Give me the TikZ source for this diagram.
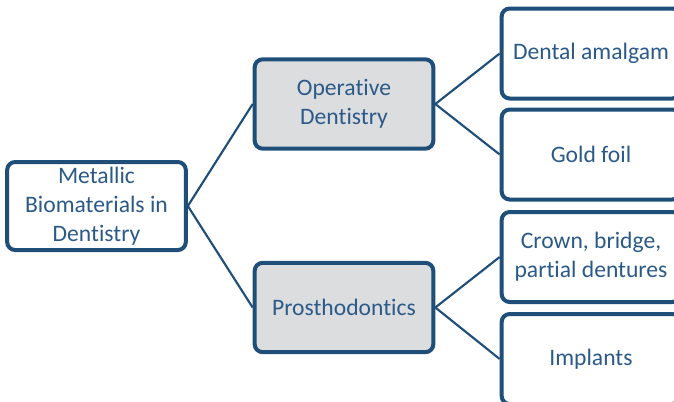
\documentclass[tikz,border=0pt]{standalone}
\usepackage{fontspec}
\setmainfont{Carlito}[Ligatures={NoCommon}]
\usepackage{tikz}
\usetikzlibrary{positioning}
\definecolor{boxblue}{HTML}{1F4E79}
\definecolor{txtblue}{HTML}{2B5A88}
\definecolor{boxgray}{HTML}{DCDDDF}

\begin{document}
\begin{tikzpicture}[x=0.75pt, y=-0.75pt,
  root/.style={draw=boxblue, line width=3pt, rounded corners=6pt, fill=white, minimum width=134pt, minimum height=66pt, align=center, text=txtblue, font=\fontsize{17.7}{21.75}\selectfont},
  cat/.style={root, fill=boxgray, minimum height=67pt},
  leaf/.style={root, minimum height=67.5pt},
  link/.style={draw=boxblue, line width=1.6pt}
]
\useasboundingbox (0,0) rectangle (674,401);
\clip (0,0) rectangle (674,401);
\node[root] (metal) at (96.5,206) {Metallic\\Biomaterials in\\Dentistry};
\node[cat] (oper) at (344,104) {Operative\\Dentistry};
\node[cat] (prost) at (344,307.5) {Prosthodontics};
\node[leaf] (amal) at (591,53.5) {Dental amalgam};
\node[leaf] (gold) at (591,154.5) {Gold foil};
\node[leaf] (crown) at (591,257) {Crown, bridge,\\partial dentures};
\node[leaf] (impl) at (591,359) {Implants};

\draw[link] (metal.east)--(oper.west); \draw[link] (metal.east)--(prost.west);
\draw[link] (oper.east)--(amal.west); \draw[link] (oper.east)--(gold.west);
\draw[link] (prost.east)--(crown.west); \draw[link] (prost.east)--(impl.west);
\end{tikzpicture}
\end{document}
